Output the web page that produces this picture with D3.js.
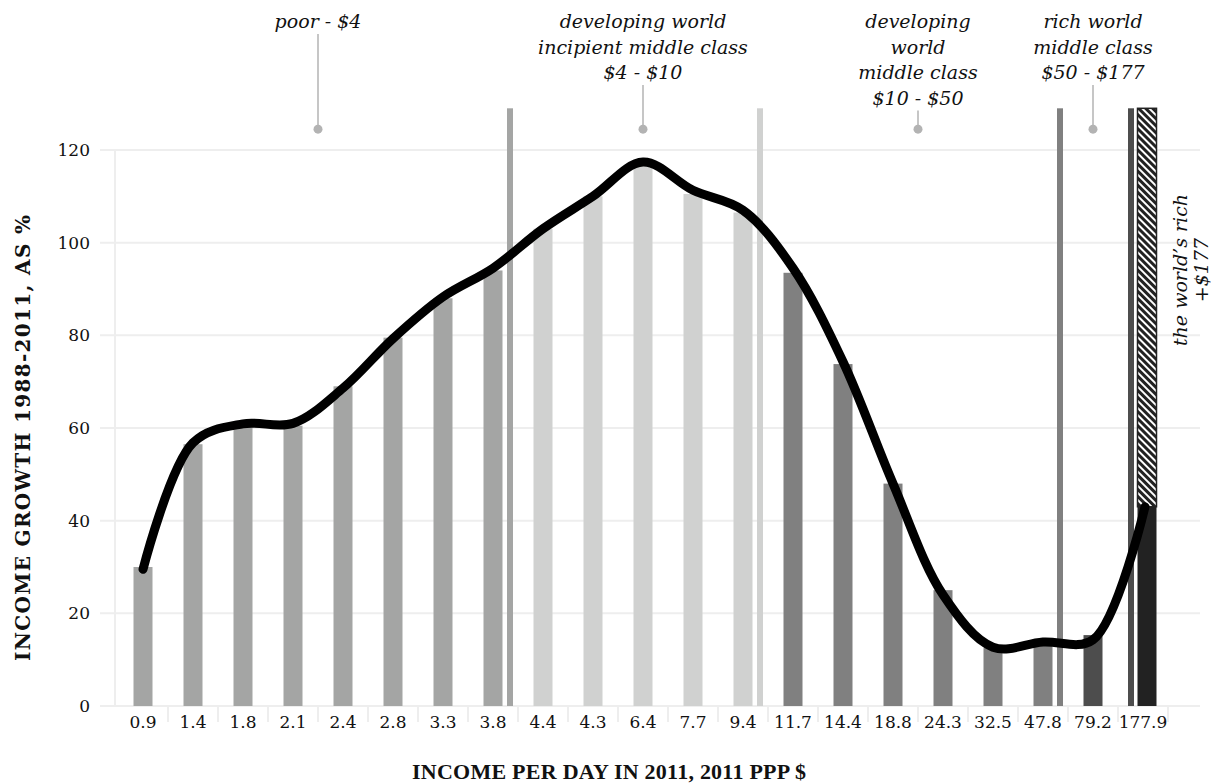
<!DOCTYPE html>
<html lang="en">
	<head>
		<meta charset="utf-8">
		<title>Income growth 1988-2011</title>
		<script src="https://d3js.org/d3.v7.min.js"></script>
		<style type="text/css">
			body { margin: 0; background-color: white; }
			text { font-family: "DejaVu Serif", serif; fill: #111; }
			.ttl { font-family: "Liberation Serif", serif; font-weight: bold; }
			.ttl2 { font-family: "DejaVu Serif", serif; font-weight: bold; }
			.note { font-style: italic; }
		</style>
	</head>
	<body>
		<script type="text/javascript">

			//Data
			var incomes = ["0.9", "1.4", "1.8", "2.1", "2.4", "2.8", "3.3", "3.8", "4.4", "4.3", "6.4",
			               "7.7", "9.4", "11.7", "14.4", "18.8", "24.3", "32.5", "47.8", "79.2", "177.9"];
			var growth = [30, 56.5, 60.3, 60.5, 69, 79.5, 88, 94, 103, 110, 117,
			              110.5, 106.5, 93.5, 73.8, 48, 25, 12.5, 13.3, 15.3, 43];
			var groupOf = ["poor", "poor", "poor", "poor", "poor", "poor", "poor", "poor",
			               "incipient", "incipient", "incipient", "incipient", "incipient",
			               "middle", "middle", "middle", "middle", "middle", "middle", "richmid", "rich"];
			var trend = [29.5, 56.8, 60.9, 61, 68.6, 79.3, 88.3, 94.5, 103, 110, 117.4,
			             111.3, 107, 94.5, 74.3, 48, 24, 12.7, 13.8, 14.3, 43];
			var richTop = 129;
			var yTicks = [0, 20, 40, 60, 80, 100, 120];

			var sepAfter = ["3.8", "9.4", "47.8", "79.2"];
			var sepGroup = ["poor", "incipient", "middle", "richmid"];

			var notes = [
				{ at: "2.4", lines: ["poor - $4"], anchor: "edge" },
				{ at: "6.4", lines: ["developing world", "incipient middle class", "$4 - $10"], anchor: "mid" },
				{ at: "24.3", lines: ["developing", "world", "middle class", "$10 - $50"], anchor: "edge" },
				{ at: "79.2", lines: ["rich world", "middle class", "$50 - $177"], anchor: "mid" }
			];

			var colors = { poor: "#a4a5a4", incipient: "#d0d1d0", middle: "#808080", richmid: "#4d4d4d", rich: "#222222" };

			//Width and height
			var w = 1214;
			var h = 783;

			var xScale = d3.scaleBand()
					.domain(incomes)
					.range([118, 1168]);

			var yScale = d3.scaleLinear()
					.domain([0, 120])
					.range([706, 150]);

			var bw = xScale.bandwidth();
			var barW = 19;

			var svg = d3.select("body")
						.append("svg")
						.attr("width", w)
						.attr("height", h);

			//Hatch pattern for the top of the last bar
			var pat = svg.append("defs").append("pattern")
				.attr("id", "hatch")
				.attr("patternUnits", "userSpaceOnUse")
				.attr("width", 5)
				.attr("height", 10)
				.attr("patternTransform", "rotate(-45)");
			pat.append("rect").attr("width", 5).attr("height", 10).attr("fill", "#222");
			pat.append("line").attr("x1", 1).attr("x2", 1).attr("y1", 0).attr("y2", 10)
				.attr("stroke", "white").attr("stroke-width", 2);

			//Grid lines
			svg.selectAll("line.grid")
			   .data(yTicks)
			   .enter()
			   .append("line")
			   .attr("class", "grid")
			   .attr("x1", 100)
			   .attr("x2", 1200)
			   .attr("y1", function(d) { return yScale(d); })
			   .attr("y2", function(d) { return yScale(d); })
			   .attr("stroke", "#eeeeee")
			   .attr("stroke-width", 2);

			svg.append("line")
			   .attr("x1", 115).attr("x2", 115)
			   .attr("y1", yScale(120)).attr("y2", yScale(0))
			   .attr("stroke", "#eeeeee")
			   .attr("stroke-width", 2);

			//Separators under the axis
			svg.selectAll("line.sep")
			   .data(incomes)
			   .enter()
			   .append("line")
			   .attr("class", "sep")
			   .attr("x1", function(d) { return xScale(d) + bw; })
			   .attr("x2", function(d) { return xScale(d) + bw; })
			   .attr("y1", yScale(0))
			   .attr("y2", yScale(0) + 16)
			   .attr("stroke", "#eeeeee")
			   .attr("stroke-width", 2);

			//Y labels
			svg.selectAll("text.ytick")
			   .data(yTicks)
			   .enter()
			   .append("text")
			   .attr("class", "ytick")
			   .attr("x", 90)
			   .attr("y", function(d) { return yScale(d) + 6; })
			   .attr("text-anchor", "end")
			   .attr("font-size", "17px")
			   .text(function(d) { return d; });

			//X labels
			svg.selectAll("text.xtick")
			   .data(incomes)
			   .enter()
			   .append("text")
			   .attr("class", "xtick")
			   .attr("x", function(d) { return xScale(d) + bw / 2; })
			   .attr("y", 728)
			   .attr("text-anchor", "middle")
			   .attr("font-size", "17px")
			   .text(function(d) { return d; });

			//Bars
			svg.selectAll("rect.bar")
			   .data(incomes)
			   .enter()
			   .append("rect")
			   .attr("class", "bar")
			   .attr("x", function(d, i) { return xScale(d) + bw / 2 - barW / 2 + (i == incomes.length - 1 ? 4 : 0); })
			   .attr("y", function(d, i) { return yScale(growth[i]); })
			   .attr("width", barW)
			   .attr("height", function(d, i) { return yScale(0) - yScale(growth[i]); })
			   .attr("fill", function(d, i) { return colors[groupOf[i]]; });

			//Hatched top of the last bar
			var last = incomes.length - 1;
			svg.append("rect")
			   .attr("x", xScale(incomes[last]) + bw / 2 - barW / 2 + 4)
			   .attr("y", yScale(richTop))
			   .attr("width", barW)
			   .attr("height", yScale(growth[last]) - yScale(richTop))
			   .attr("fill", "url(#hatch)")
			   .attr("stroke", "#222")
			   .attr("stroke-width", 1.5);

			//Group separators
			svg.selectAll("rect.sepbar")
			   .data(sepAfter)
			   .enter()
			   .append("rect")
			   .attr("class", "sepbar")
			   .attr("x", function(d, i) { return xScale(d) + (i == 3 ? bw + 10 : bw - 11); })
			   .attr("y", yScale(richTop))
			   .attr("width", 6)
			   .attr("height", yScale(0) - yScale(richTop))
			   .attr("fill", function(d, i) { return colors[sepGroup[i]]; });

			//Trend curve
			var line = d3.line()
				.x(function(d, i) { return xScale(incomes[i]) + bw / 2 + (i == last ? 2 : 0); })
				.y(function(d) { return yScale(d); })
				.curve(d3.curveCatmullRom.alpha(0.5));

			svg.append("path")
			   .datum(trend)
			   .attr("d", line)
			   .attr("fill", "none")
			   .attr("stroke", "black")
			   .attr("stroke-width", 9)
			   .attr("stroke-linecap", "round")
			   .attr("stroke-linejoin", "round");

			//Annotations
			notes.forEach(function(n) {
				var cx = xScale(n.at) + (n.anchor == "mid" ? bw / 2 : 0);
				var g = svg.append("g");
				n.lines.forEach(function(t, j) {
					g.append("text")
					 .attr("class", "note")
					 .attr("x", cx)
					 .attr("y", 28 + j * 25.5)
					 .attr("text-anchor", "middle")
					 .attr("font-size", "19px")
					 .text(t);
				});
				g.append("line")
				 .attr("x1", cx).attr("x2", cx)
				 .attr("y1", 28 + (n.lines.length - 1) * 25.5 + 6)
				 .attr("y2", yScale(124.5))
				 .attr("stroke", "#b3b3b3")
				 .attr("stroke-width", 1.5);
				g.append("circle")
				 .attr("cx", cx)
				 .attr("cy", yScale(124.5))
				 .attr("r", 4.5)
				 .attr("fill", "#b3b3b3");
			});

			//Rich label
			var rich = svg.append("text")
				.attr("class", "note")
				.attr("transform", "translate(1187,270) rotate(-90)")
				.attr("text-anchor", "middle")
				.attr("font-size", "19px");
			rich.append("tspan").attr("x", 0).attr("y", 0).text("the world\u2019s rich");
			rich.append("tspan").attr("x", 0).attr("y", 21).text("+$177");

			//Axis titles
			svg.append("text")
				.attr("class", "ttl")
				.attr("x", 609)
				.attr("y", 779)
				.attr("text-anchor", "middle")
				.attr("font-size", "22px")
				.attr("textLength", 394)
				.attr("lengthAdjust", "spacing")
				.text("INCOME PER DAY IN 2011, 2011 PPP $");

			svg.append("text")
				.attr("class", "ttl2")
				.attr("transform", "translate(30,438) rotate(-90)")
				.attr("text-anchor", "middle")
				.attr("font-size", "20px")
				.attr("textLength", 446)
				.attr("lengthAdjust", "spacing")
				.text("INCOME GROWTH 1988-2011, AS %");

		</script>
	</body>
</html>
